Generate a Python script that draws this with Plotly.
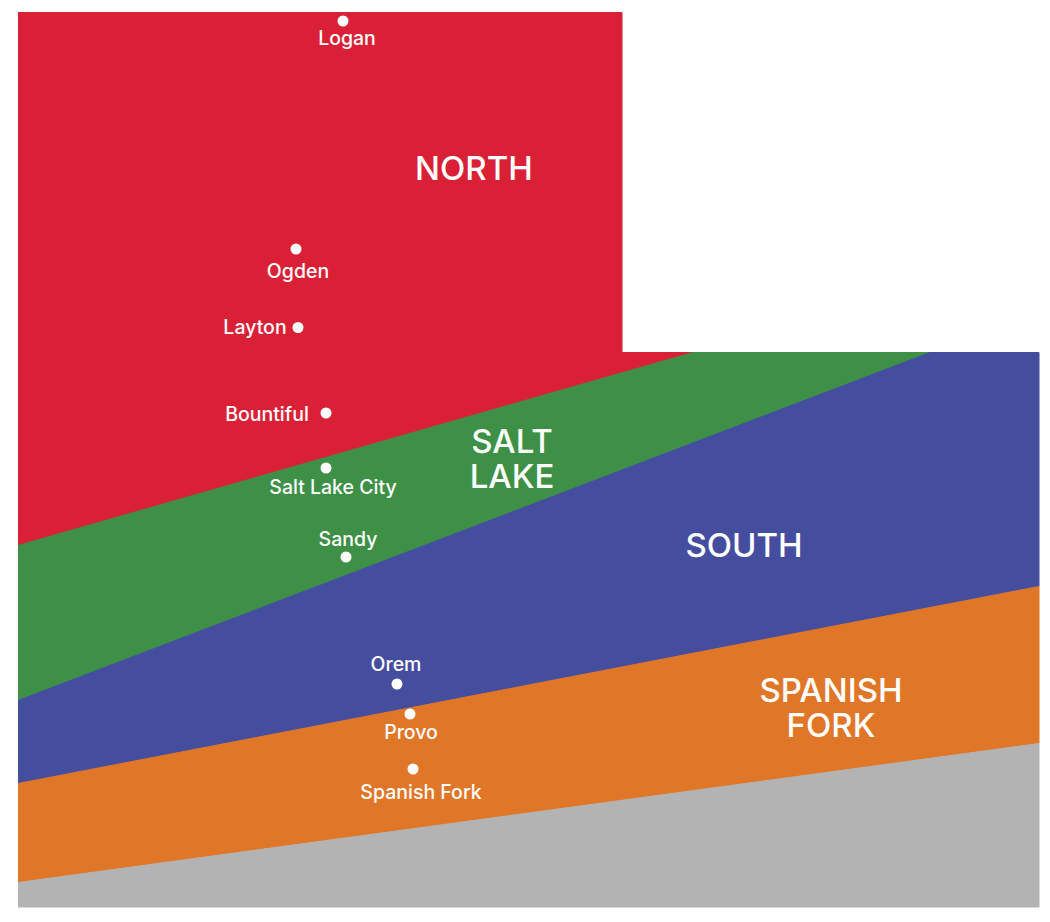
import plotly.graph_objects as go

# Region outlines (pixel coordinates)
regions = ['North', 'Salt Lake', 'South', 'Spanish Fork', 'Other']
region_colors = ['#DA2036', '#3D9046', '#454D9F', '#E07627', '#B3B3B3']
region_x = [
    [18, 622, 622, 693, 18],
    [18, 693, 930, 18],
    [18, 930, 1039, 1039, 18],
    [18, 1039, 1039, 18],
    [18, 1039, 1039, 18],
]
region_y = [
    [12.5, 12.5, 352.5, 352.5, 545.5],
    [545.5, 352.5, 352.5, 700.5],
    [700.5, 352.5, 352.5, 586.5, 783.5],
    [783.5, 586.5, 743.5, 882.5],
    [882.5, 743.5, 907, 907],
]

# Region names, one entry per line so the line spacing stays tight
region_labels = ['NORTH', 'SALT', 'LAKE', 'SOUTH', 'SPANISH', 'FORK']
region_label_x = [474, 512, 512, 744, 831, 831]
region_label_y = [172, 445, 480, 549, 694, 729]

# City dots
cities = ['Logan', 'Ogden', 'Layton', 'Bountiful', 'Salt Lake City', 'Sandy',
          'Orem', 'Provo', 'Spanish Fork']
city_x = [343, 296, 298, 326, 326, 346, 397, 410, 413]
city_y = [21, 249, 327.5, 413, 468, 557, 684, 714, 769]

# City name positions
city_label_x = [347, 298, 255, 267, 333, 348, 396, 411, 421]
city_label_y = [40, 273, 329, 416, 489, 541, 666, 734, 794]

fig = go.Figure()

for name, color, xs, ys in zip(regions, region_colors, region_x, region_y):
    fig.add_trace(go.Scatter(x=xs, y=ys, name=name, mode='lines', fill='toself',
                             fillcolor=color, line=dict(width=1, color=color), hoverinfo='name'))

fig.add_trace(go.Scatter(x=city_x, y=city_y, mode='markers', text=cities, hoverinfo='text',
                         marker=dict(color='white', size=11)))
fig.add_trace(go.Scatter(x=city_label_x, y=city_label_y, mode='text', text=cities, hoverinfo='skip',
                         textposition='middle center',
                         textfont=dict(family='Inter', size=19.5, color='white', weight=500)))
fig.add_trace(go.Scatter(x=region_label_x, y=region_label_y, mode='text', text=region_labels,
                         hoverinfo='skip', textposition='middle center',
                         textfont=dict(family='Inter', size=33, color='white', weight=500)))

# The page body has an 8px margin, so the axes start at 8 to keep pixel coordinates
fig.update_xaxes(range=[8, 1050], visible=False, fixedrange=True)
fig.update_yaxes(range=[922, 8], visible=False, fixedrange=True)
fig.update_layout(width=1042, height=914, margin=dict(l=0, r=0, t=0, b=0),
                  showlegend=False, paper_bgcolor='white', plot_bgcolor='white')

fig.write_html("out.html")
